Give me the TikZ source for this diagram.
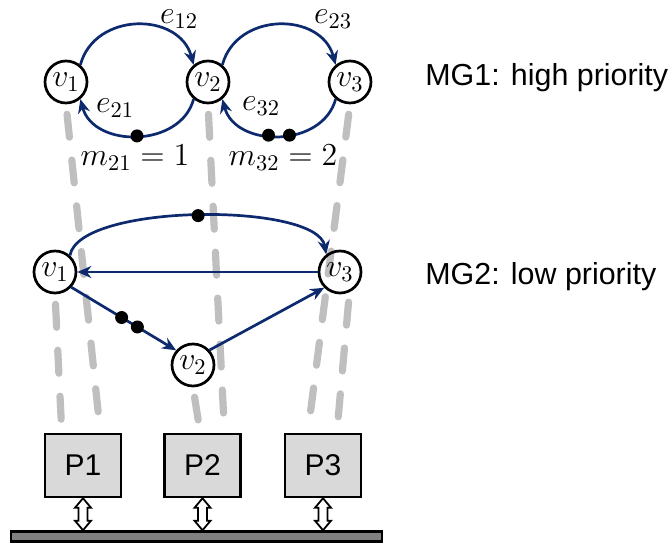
\documentclass[tikz,border=0pt]{standalone}
\usepackage{fix-cm}
\usepackage{fontspec}
\setsansfont{Liberation Sans}
\usetikzlibrary{arrows.meta, calc, shapes.arrows}

\definecolor{navy}{RGB}{14,42,110}

\pgfdeclarelayer{bg}
\pgfsetlayers{bg,main}

\tikzset{
  vertex/.style={circle, draw, line width=1.35pt, minimum size=21pt, inner sep=0pt},
  flow/.style={draw=navy, line width=1.35pt, -{Stealth[length=7pt, width=6pt]}},
  token/.style={circle, fill=black, inner sep=0pt, minimum size=6.5pt},
  mapline/.style={gray!50, line width=3.6pt, line cap=round,
    dash pattern=on 11.5pt off 11.5pt, shorten <=5pt},
  proc/.style={draw, fill=gray!30, line width=1.1pt, minimum width=38pt,
    minimum height=31.5pt, font=\fontsize{15}{18}\selectfont\sffamily},
  bus/.style={draw, fill=gray, line width=1.1pt, minimum width=185.5pt,
    minimum height=5pt, inner sep=0pt},
  busarrow/.style={double arrow, draw, fill=white, line width=0.9pt, rotate=90,
    inner sep=1.6pt, minimum height=16pt, minimum width=8pt,
    double arrow head extend=1.6pt, double arrow tip angle=80}
}

\begin{document}
\begin{tikzpicture}[x=0.5pt, y=0.5pt, font=\fontsize{16}{19}\selectfont]
  \useasboundingbox (0,0) rectangle (670,-544);

  % MG1
  \node[vertex] (a1) at (66,-82) {$v_1$};
  \node[vertex] (a2) at (208,-82) {$v_2$};
  \node[vertex] (a3) at (350,-82) {$v_3$};

  \draw[flow] (a1.50) to[out=75, in=105, looseness=1.25] (a2.130);
  \draw[flow] (a2.230) to[out=-105, in=-75, looseness=1.15]
    node[token, pos=0.5] {} (a1.310);
  \draw[flow] (a2.50) to[out=75, in=105, looseness=1.25] (a3.130);
  \draw[flow] (a3.230) to[out=-105, in=-75, looseness=1.15]
    node[token, pos=0.43] {} node[token, pos=0.57] {} (a2.310);

  \node[inner sep=1pt] (e12) at (179,-19) {$e_{12}$};
  \node[inner sep=1pt] (e23) at (333,-19) {$e_{23}$};
  \node (e21) at (115,-108) {$e_{21}$};
  \node (e32) at (261,-106) {$e_{32}$};
  \node (m21) at (135,-158) {$m_{21}=1$};
  \node (m32) at (283,-158) {$m_{32}=2$};

  \node[anchor=west, inner sep=0pt, font=\fontsize{15.2}{18}\selectfont\sffamily]
    (mg1) at (425,-78) {MG1: high priority};

  % MG2
  \node[vertex] (b1) at (55,-272) {$v_1$};
  \node[vertex] (b2) at (193,-365) {$v_2$};
  \node[vertex] (b3) at (340,-272) {$v_3$};

  \draw[flow] (b1.48) to[out=80, in=100, looseness=0.53]
    node[token, pos=0.5] {} (b3.128);
  \draw[flow] (b3) -- (b1);
  \draw[flow] (b1.-43) -- node[token, pos=0.48] {} node[token, pos=0.63] {} (b2.139);
  \draw[flow] (b2.42) -- (b3.225);

  \node[anchor=west, inner sep=0pt, font=\fontsize{15.2}{18}\selectfont\sffamily]
    (mg2) at (425,-277) {MG2: low priority};

  % processors on the bus
  \node[proc] (p1) at (83,-465.5) {P1};
  \node[proc] (p2) at (202.5,-465.5) {P2};
  \node[proc] (p3) at (323,-465.5) {P3};
  \node[bus] (bus) at (196.5,-536.5) {};

  \foreach \p in {p1,p2,p3}
    \node[busarrow] (\p link) at ($(\p.south)!0.5!(\p.south |- bus.north)$) {};

  % mapping of actors to processors
  \begin{pgfonlayer}{bg}
    \foreach \from/\to in {a1.south/p1.62, b1.south/p1.123, a2.south/p2.56,
                           b2.south/p2.94, a3.south/p3.115, b3.-65/p3.67}
      \draw[mapline] (\from) -- (\to);
  \end{pgfonlayer}
\end{tikzpicture}
\end{document}
